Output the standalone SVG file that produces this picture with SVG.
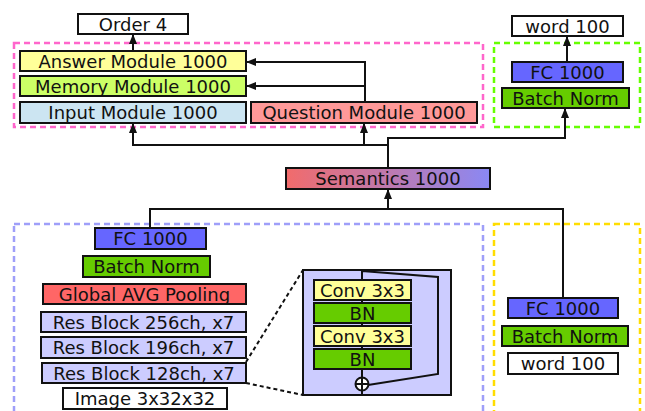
<svg xmlns="http://www.w3.org/2000/svg" width="645" height="411" viewBox="0 0 645 411">
<style>
.b{stroke:#111;stroke-width:2}
.t{font-family:"DejaVu Sans",sans-serif;font-size:18px;fill:#111;text-anchor:middle;dominant-baseline:central}
.c{fill:none;stroke:#111;stroke-width:2}
.d{fill:none;stroke-width:2.5;stroke-dasharray:6 4}
</style>
<defs>
<marker id="ah" viewBox="0 0 10 10" refX="10" refY="5" markerWidth="5" markerHeight="5" orient="auto" markerUnits="strokeWidth"><path d="M0,1 L10,5 L0,9 z" fill="#111"/></marker>
<linearGradient id="sg" x1="0" y1="0" x2="1" y2="0"><stop offset="0" stop-color="#f26b6b"/><stop offset="1" stop-color="#8a88f4"/></linearGradient>
</defs>
<rect width="645" height="411" fill="#fff"/>
<g id="groups">
<rect class="d" x="14" y="43" width="469" height="84" stroke="#ff66cc"/>
<rect class="d" x="494" y="43" width="146" height="84" stroke="#66ff00"/>
<rect class="d" x="14" y="224" width="469" height="200" stroke="#9f9ff9"/>
<rect class="d" x="494" y="224" width="146" height="200" stroke="#ffdd00"/>
</g>
<g id="connectors">
<path class="c" d="M133,51 V34" marker-end="url(#ah)"/>
<path class="c" d="M365,102 V62 H246" marker-end="url(#ah)"/>
<path class="c" d="M365,86 H246" marker-end="url(#ah)"/>
<path class="c" d="M388,168 V138 H565 V108" marker-end="url(#ah)"/>
<path class="c" d="M388,145 H133 V123" marker-end="url(#ah)"/>
<path class="c" d="M364,145 V123" marker-end="url(#ah)"/>
<path class="c" d="M567,62 V36" marker-end="url(#ah)"/>
<path class="c" d="M150,228 V209 H563 V298"/>
<path class="c" d="M388,209 V189" marker-end="url(#ah)"/>
<path fill="none" stroke="#111" stroke-width="2" stroke-dasharray="4 3" d="M246,362 L303,270 M246,383 L303,395"/>
</g>
<g id="order4"><rect class="b" x="78" y="14" width="110" height="20" fill="#fff"/><text class="t" x="133" y="24">Order 4</text></g>
<g id="answer"><rect class="b" x="20" y="51" width="226" height="20" fill="#ffff99"/><text class="t" x="133" y="61">Answer Module 1000</text></g>
<g id="memory"><rect class="b" x="20" y="76" width="226" height="20" fill="#ccff66"/><text class="t" x="133" y="86">Memory Module 1000</text></g>
<g id="input"><rect class="b" x="20" y="102" width="226" height="21" fill="#cce5f2"/><text class="t" x="133" y="112.5">Input Module 1000</text></g>
<g id="question"><rect class="b" x="251" y="102" width="226" height="21" fill="#ff9999"/><text class="t" x="364" y="112.5">Question Module 1000</text></g>
<g id="word100top"><rect class="b" x="512" y="16" width="111" height="20" fill="#fff"/><text class="t" x="567.5" y="26">word 100</text></g>
<g id="fctop"><rect class="b" x="512" y="62" width="111" height="20" fill="#6666ff"/><text class="t" x="567.5" y="72">FC 1000</text></g>
<g id="bntop"><rect class="b" x="502" y="88" width="127" height="20" fill="#66cc00"/><text class="t" x="565.5" y="98">Batch Norm</text></g>
<g id="semantics"><rect class="b" x="286" y="168" width="204" height="21" fill="url(#sg)"/><text class="t" x="388" y="178.5">Semantics 1000</text></g>
<g id="fcleft"><rect class="b" x="95" y="228" width="111" height="21" fill="#6666ff"/><text class="t" x="150.5" y="238.5">FC 1000</text></g>
<g id="bnleft"><rect class="b" x="83" y="256" width="127" height="21" fill="#66cc00"/><text class="t" x="146.5" y="266.5">Batch Norm</text></g>
<g id="gap"><rect class="b" x="43" y="284" width="203" height="20" fill="#ff6666"/><text class="t" x="144.5" y="294">Global AVG Pooling</text></g>
<g id="res256"><rect class="b" x="41" y="312" width="205" height="20" fill="#ccccff"/><text class="t" x="143.5" y="322">Res Block 256ch, x7</text></g>
<g id="res196"><rect class="b" x="41" y="337" width="205" height="21" fill="#ccccff"/><text class="t" x="143.5" y="347.5">Res Block 196ch, x7</text></g>
<g id="res128"><rect class="b" x="42" y="363" width="204" height="20" fill="#ccccff"/><text class="t" x="144" y="373">Res Block 128ch, x7</text></g>
<g id="image"><rect class="b" x="63" y="388" width="164" height="21" fill="#fff"/><text class="t" x="145" y="398.5">Image 3x32x32</text></g>
<g id="resdetail">
<rect class="b" x="303" y="270" width="148" height="125" fill="#ccccff"/>
<path class="c" d="M362,270 V395 M362,271 L438,277 V374 L368,385"/>
<rect class="b" x="314" y="280" width="97" height="20" fill="#ffff99"/><text class="t" x="362.5" y="290">Conv 3x3</text>
<rect class="b" x="314" y="303" width="97" height="20" fill="#66cc00"/><text class="t" x="362.5" y="313">BN</text>
<rect class="b" x="314" y="326" width="97" height="20" fill="#ffff99"/><text class="t" x="362.5" y="336">Conv 3x3</text>
<rect class="b" x="314" y="349" width="97" height="20" fill="#66cc00"/><text class="t" x="362.5" y="359">BN</text>
<circle cx="362" cy="384" r="6.5" fill="#fff" stroke="#111" stroke-width="2"/>
<path class="c" d="M355.5,384 H368.5 M362,377.5 V390.5"/>
</g>
<g id="fcright"><rect class="b" x="508" y="298" width="110" height="20" fill="#6666ff"/><text class="t" x="563" y="308">FC 1000</text></g>
<g id="bnright"><rect class="b" x="502" y="326" width="126" height="20" fill="#66cc00"/><text class="t" x="565" y="336">Batch Norm</text></g>
<g id="word100bot"><rect class="b" x="508" y="353" width="110" height="21" fill="#fff"/><text class="t" x="563" y="363.5">word 100</text></g>
</svg>
